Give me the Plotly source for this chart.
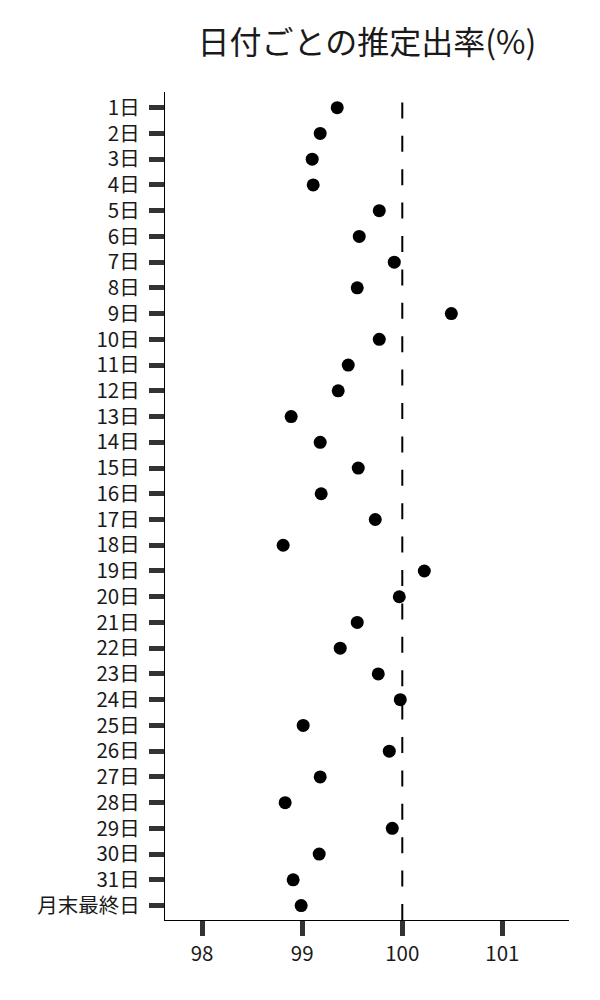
import plotly.graph_objects as go

# Data
days = [f"{i}日" for i in range(1, 32)] + ["月末最終日"]
rates = [
    99.35, 99.18, 99.10, 99.11, 99.77, 99.57, 99.92, 99.55, 100.49, 99.77,
    99.46, 99.36, 98.89, 99.18, 99.56, 99.19, 99.73, 98.81, 100.22, 99.97,
    99.55, 99.38, 99.76, 99.98, 99.01, 99.87, 99.18, 98.83, 99.90, 99.17,
    98.91, 98.99,
]
x_ticks = [98, 99, 100, 101]
ref_line = 100

FONT = "Noto Sans CJK JP"

fig = go.Figure()
fig.add_trace(go.Scatter(
    x=rates, y=days, mode="markers",
    marker=dict(color="black", size=13),
    showlegend=False, hoverinfo="x+y",
))

# dashed reference line at 100 (drawn bottom -> top so the dash pattern starts at the axis)
fig.add_shape(
    type="line", xref="x", yref="paper",
    x0=ref_line, x1=ref_line, y0=0, y1=1,
    line=dict(color="black", width=2, dash="16px,17.4px"),
    layer="below",
)

# the page body adds 8px on the top/left, so the margins are trimmed by that
fig.update_layout(
    width=600, height=1000,
    margin=dict(l=157, r=39, t=84, b=88),
    paper_bgcolor="white", plot_bgcolor="white",
    font=dict(family=FONT, color="#1a1a1a", size=20),
    title=dict(
        text="日付ごとの推定出率(%)",
        x=0.5, xref="paper", xanchor="center",
        y=0.965, yref="container", yanchor="middle",
        font=dict(family=FONT, size=32, color="#1a1a1a"),
    ),
)
fig.update_xaxes(
    range=[97.63, 101.665],
    tickvals=x_ticks, ticktext=[str(v) for v in x_ticks],
    showgrid=False, zeroline=False,
    showline=True, linecolor="black", linewidth=1.3,
    ticks="outside", ticklen=15, tickwidth=5, tickcolor="#333333",
    tickfont=dict(size=20.5, color="#1a1a1a"),
)
fig.update_yaxes(
    type="category", categoryorder="array", categoryarray=days,
    range=[31.56, -0.61],
    showgrid=False, zeroline=False,
    showline=True, linecolor="black", linewidth=1.3,
    ticks="outside", ticklen=15, tickwidth=5, tickcolor="#333333",
    tickfont=dict(size=20.5, color="#1a1a1a"),
    ticklabelstandoff=5,
)

fig.write_html("out.html")
